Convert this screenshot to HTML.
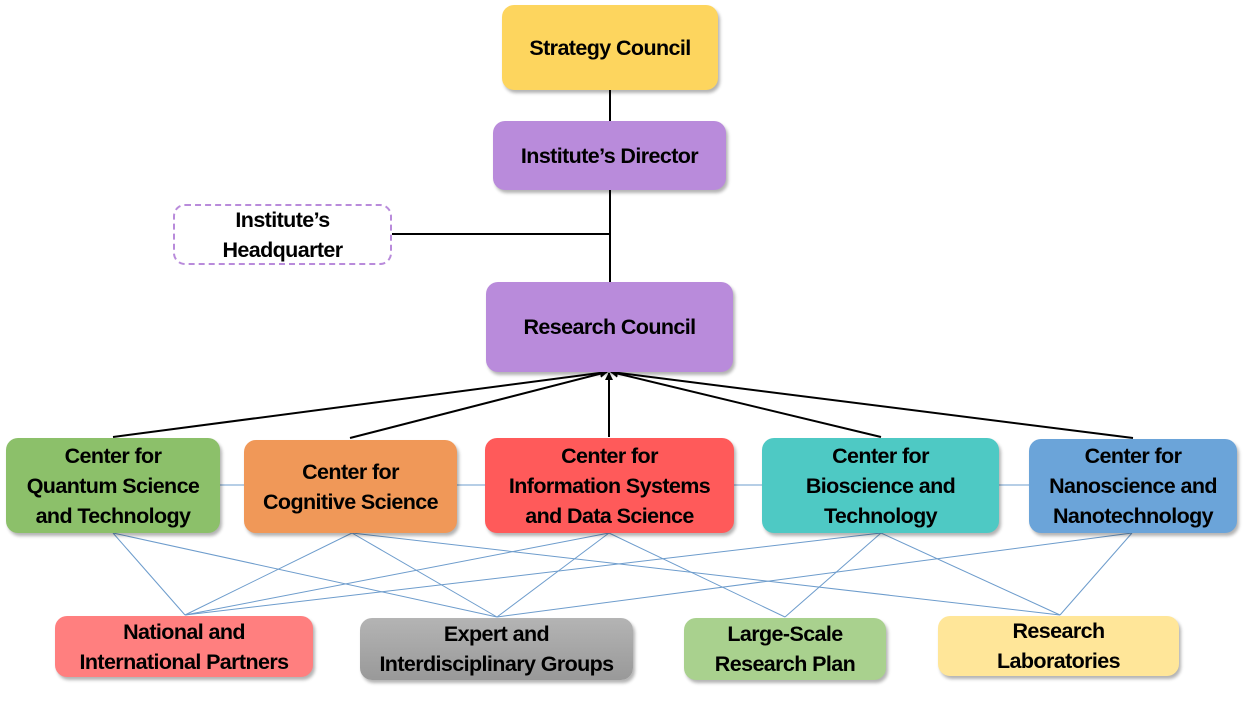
<!DOCTYPE html>
<html><head><meta charset="utf-8"><style>
body{margin:0;width:1248px;height:701px;background:#fff;position:relative;overflow:hidden;font-family:"Liberation Sans",sans-serif;}
.b{position:absolute;box-sizing:border-box;border-radius:12px;display:flex;align-items:center;justify-content:center;text-align:center;font-weight:bold;font-size:21.5px;line-height:30px;color:#000;box-shadow:2px 3px 3px rgba(0,0,0,0.3);letter-spacing:-0.6px;white-space:nowrap;}
svg{position:absolute;left:0;top:0;}
</style></head><body>
<svg width="1248" height="701">
<defs><marker id="a" markerWidth="8" markerHeight="8" refX="7" refY="4" orient="auto" markerUnits="userSpaceOnUse"><path d="M0,0 L8,4 L0,8 z" fill="#000"/></marker></defs>
<g stroke="#000" stroke-width="2">
<line x1="610" y1="90" x2="610" y2="121"/>
<line x1="610" y1="190" x2="610" y2="282"/>
<line x1="392" y1="234" x2="610" y2="234"/>
</g>
<g stroke="#000" stroke-width="2" marker-end="url(#a)">
<line x1="113" y1="437" x2="607" y2="372"/>
<line x1="350" y1="438" x2="607" y2="372"/>
<line x1="609" y1="437" x2="609" y2="373"/>
<line x1="881" y1="437" x2="611" y2="372"/>
<line x1="1133" y1="438" x2="611" y2="372"/>
</g>
<g stroke="#6d9ccc" stroke-width="1" fill="none">
<line x1="220" y1="485" x2="244" y2="485"/>
<line x1="457" y1="485" x2="485" y2="485"/>
<line x1="734" y1="485" x2="762" y2="485"/>
<line x1="999" y1="485" x2="1029" y2="485"/>
<line x1="113" y1="533" x2="185" y2="615"/>
<line x1="113" y1="533" x2="497" y2="617"/>
<line x1="352" y1="533" x2="185" y2="615"/>
<line x1="352" y1="533" x2="497" y2="617"/>
<line x1="352" y1="533" x2="1060" y2="615"/>
<line x1="609" y1="533" x2="185" y2="615"/>
<line x1="609" y1="533" x2="497" y2="617"/>
<line x1="609" y1="533" x2="785" y2="617"/>
<line x1="881" y1="533" x2="185" y2="615"/>
<line x1="881" y1="533" x2="785" y2="617"/>
<line x1="881" y1="533" x2="1060" y2="615"/>
<line x1="1132" y1="533" x2="497" y2="617"/>
<line x1="1132" y1="533" x2="1060" y2="615"/>
</g>
</svg>
<div class="b" style="left:502px;top:5px;width:216px;height:85px;background:#FDD55E;">Strategy Council</div>
<div class="b" style="left:493px;top:121px;width:233px;height:69px;background:#B98BDB;">Institute’s Director</div>
<div class="b" style="left:173px;top:204px;width:219px;height:61px;border:2px dashed #b98bdb;box-shadow:none;line-height:30px;">Institute’s<br>Headquarter</div>
<div class="b" style="left:486px;top:282px;width:247px;height:90px;background:#B98BDB;">Research Council</div>
<div class="b" style="left:6px;top:438px;width:214px;height:95px;background:#8CC06A;">Center for<br>Quantum Science<br>and Technology</div>
<div class="b" style="left:244px;top:440px;width:213px;height:93px;background:#F09858;">Center for<br>Cognitive Science</div>
<div class="b" style="left:485px;top:438px;width:249px;height:95px;background:#FF5A5A;">Center for<br>Information Systems<br>and Data Science</div>
<div class="b" style="left:762px;top:438px;width:237px;height:95px;background:#4EC9C4;">Center for<br>Bioscience and<br>Technology</div>
<div class="b" style="left:1029px;top:439px;width:208px;height:94px;background:#6BA4D9;">Center for<br>Nanoscience and<br>Nanotechnology</div>
<div class="b" style="left:55px;top:616px;width:258px;height:61px;background:#FF7F7F;">National and<br>International Partners</div>
<div class="b" style="left:360px;top:618px;width:273px;height:62px;background:linear-gradient(#b4b4b4,#999);">Expert and<br>Interdisciplinary Groups</div>
<div class="b" style="left:684px;top:618px;width:202px;height:62px;background:#A9D18E;">Large-Scale<br>Research Plan</div>
<div class="b" style="left:938px;top:616px;width:241px;height:60px;background:#FFE699;">Research<br>Laboratories</div>
</body></html>
